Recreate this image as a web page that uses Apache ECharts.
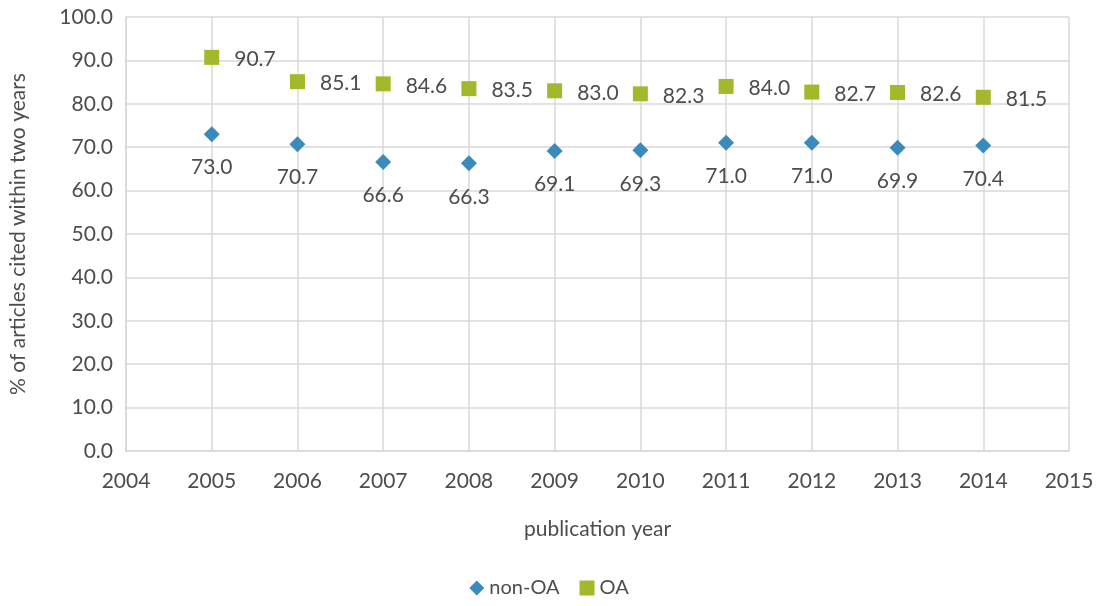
<!DOCTYPE html>
<html>
<head>
<meta charset="utf-8">
<script src="https://cdn.jsdelivr.net/npm/echarts@6/dist/echarts.min.js"></script>
<style>
  html, body { margin: 0; padding: 0; background: #fff; }
  #chart { width: 1098px; height: 606px; }
</style>
</head>
<body>
<div id="chart"></div>
<script>
// Publication years and share of articles cited within two years
const years = [2005, 2006, 2007, 2008, 2009, 2010, 2011, 2012, 2013, 2014];
const nonOA = [73.0, 70.7, 66.6, 66.3, 69.1, 69.3, 71.0, 71.0, 69.9, 70.4];
const openAccess = [90.7, 85.1, 84.6, 83.5, 83.0, 82.3, 84.0, 82.7, 82.6, 81.5];

const FONT = 'Lato, "Open Sans", sans-serif';
const TEXT = '#4d4d4d';
const GRID = '#d9d9d9';

const pairs = (vals) => years.map((y, i) => [y, vals[i]]);

const chart = echarts.init(document.getElementById('chart'));
chart.setOption({
  animation: false,
  textStyle: { fontFamily: FONT, color: TEXT },
  grid: { left: 121, right: 29, top: 17, bottom: 155, containLabel: false },
  xAxis: {
    type: 'value', min: 2004, max: 2015, interval: 1,
    name: 'publication year', nameLocation: 'middle', nameGap: 68,
    nameTextStyle: { fontSize: 21, color: TEXT, fontFamily: FONT },
    axisLine: { show: true, lineStyle: { color: GRID, width: 1.5 } },
    axisTick: { show: false },
    axisLabel: { fontSize: 21, color: TEXT, margin: 20, formatter: v => String(v) },
    splitLine: { show: true, lineStyle: { color: GRID, width: 1.5 } }
  },
  yAxis: {
    type: 'value', min: 0, max: 100, interval: 10,
    name: '% of articles cited within two years', nameLocation: 'middle', nameGap: 97,
    nameTextStyle: { fontSize: 21, color: TEXT, fontFamily: FONT },
    axisLine: { show: true, lineStyle: { color: GRID, width: 1.5 } },
    axisTick: { show: false },
    axisLabel: { fontSize: 21, color: TEXT, margin: 13, formatter: v => v.toFixed(1) },
    splitLine: { show: true, lineStyle: { color: GRID, width: 1.5 } }
  },
  legend: {
    bottom: 3, left: 'center', itemWidth: 15, itemHeight: 15, itemGap: 20,
    textStyle: { fontSize: 20, color: TEXT, fontFamily: FONT },
    data: [
      { name: 'non-OA', icon: 'diamond' },
      { name: 'OA', icon: 'rect' }
    ]
  },
  series: [
    {
      name: 'non-OA', type: 'scatter', symbol: 'diamond', symbolSize: 16,
      itemStyle: { color: '#3a8bbb', opacity: 1 },
      data: pairs(nonOA),
      label: {
        show: true, position: 'bottom', distance: 15, fontSize: 21, color: TEXT,
        fontFamily: FONT, formatter: p => p.value[1].toFixed(1)
      }
    },
    {
      name: 'OA', type: 'scatter', symbol: 'rect', symbolSize: 15,
      itemStyle: { color: '#a5b72a', opacity: 1 },
      data: pairs(openAccess),
      label: {
        show: true, position: 'right', distance: 15, offset: [0, 2], fontSize: 21, color: TEXT,
        fontFamily: FONT, formatter: p => p.value[1].toFixed(1)
      }
    }
  ]
});
</script>
</body>
</html>
